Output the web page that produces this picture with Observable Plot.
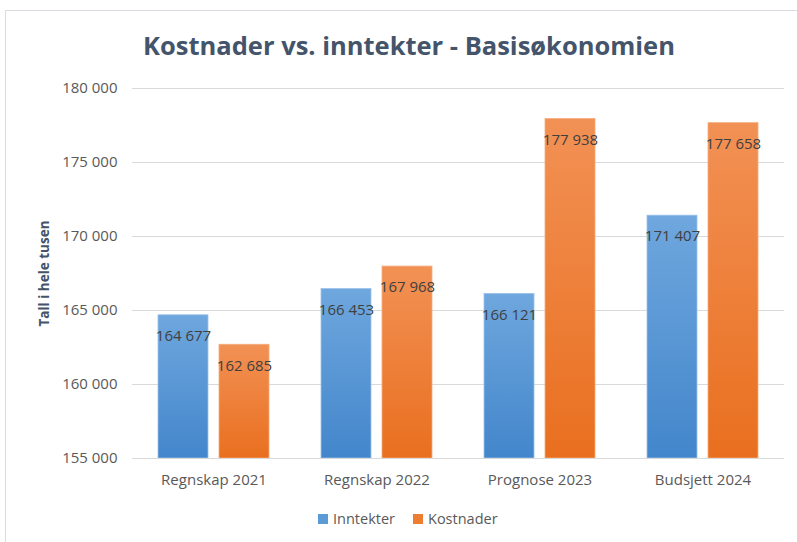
<!DOCTYPE html>
<html><head><meta charset="utf-8">
<script src="https://cdn.jsdelivr.net/npm/d3@7"></script>
<script src="https://cdn.jsdelivr.net/npm/@observablehq/plot@0.6"></script>
<style>
body{margin:0;background:#fff;width:797px;height:542px;overflow:hidden;position:relative;font-family:"Open Sans",sans-serif;}
#frame{position:absolute;left:5px;top:10px;width:800px;height:540px;border-left:1.5px solid #d9dce2;border-top:1.5px solid #d9dce2;}
#title{position:absolute;left:0;width:818px;top:28px;text-align:center;font-weight:bold;font-size:25.5px;color:#44546a;white-space:nowrap;}
#chart{position:absolute;left:0;top:0;}
#legend{position:absolute;left:318px;top:509px;display:flex;align-items:center;font-size:14.5px;color:#595959;}
#legend .sw{width:10px;height:10px;display:inline-block;margin-right:5px;}
#legend .it{display:flex;align-items:center;margin-right:18px;}
</style>
</head><body>
<div id="frame"></div>
<div id="title">Kostnader vs. inntekter - Basisøkonomien</div>
<div id="chart"></div>
<div id="legend"></div>
<script>
const categories = ["Regnskap 2021", "Regnskap 2022", "Prognose 2023", "Budsjett 2024"];
const seriesNames = ["Inntekter", "Kostnader"];
const inntekter = [164677, 166453, 166121, 171407];
const kostnader = [162685, 167968, 177938, 177658];
const yTicks = [155000, 160000, 165000, 170000, 175000, 180000];
const seriesColors = ["#5b9bd5", "#ed7d31"];

const data = [];
categories.forEach((c, i) => {
  data.push({cat: c, series: seriesNames[0], value: inntekter[i]});
  data.push({cat: c, series: seriesNames[1], value: kostnader[i]});
});

const fmt = v => d3.format(",")(v).replace(/,/g, " ");

const plot = Plot.plot({
  width: 797,
  height: 500,
  marginTop: 88,
  marginBottom: 42,
  marginLeft: 131,
  marginRight: 12,
  style: {fontFamily: "'Open Sans', sans-serif", fontSize: "14px", color: "#595959", background: "transparent"},
  fx: {domain: categories, padding: 0, label: null},
  x: {domain: seriesNames, paddingInner: 0.177, paddingOuter: 0.407, axis: null},
  y: {domain: [155000, 180000], label: null},
  marks: [
    Plot.gridY(yTicks, {stroke: "#d9d9d9", strokeOpacity: 1, strokeWidth: 1}),
    Plot.barY(data.filter(d => d.series === seriesNames[0]), {fx: "cat", x: "series", y1: 155000, y2: "value", fill: "url(#gBlue)", stroke: "#9cc3ea", strokeWidth: 0.8}),
    Plot.barY(data.filter(d => d.series === seriesNames[1]), {fx: "cat", x: "series", y1: 155000, y2: "value", fill: "url(#gOrange)", stroke: "#f4ad7c", strokeWidth: 0.8}),
    Plot.text(data, {fx: "cat", x: "series", y: "value", text: d => fmt(d.value), dy: 21, fill: "#404040", fontSize: 15, lineAnchor: "middle"}),
    Plot.ruleY([155000], {stroke: "#d9d9d9", strokeWidth: 1}),
    Plot.axisY(yTicks, {tickSize: 0, tickPadding: 15, tickFormat: fmt, fontSize: 15, label: "Tall i hele tusen", labelAnchor: "center", labelArrow: false, labelOffset: 93}),
    Plot.axisFx({anchor: "bottom", tickSize: 0, tickPadding: 16, fontSize: 15, label: null})
  ]
});

d3.select(plot).insert("defs", ":first-child").html(`
  <linearGradient id="gBlue" x1="0" y1="0" x2="0" y2="1">
    <stop offset="0" stop-color="#6fa7de"/>
    <stop offset="1" stop-color="#4386cb"/>
  </linearGradient>
  <linearGradient id="gOrange" x1="0" y1="0" x2="0" y2="1">
    <stop offset="0" stop-color="#f29155"/>
    <stop offset="1" stop-color="#e96f1f"/>
  </linearGradient>`);

d3.select(plot).selectAll("[aria-label='y-axis label'] text, [aria-label='y-axis label']")
  .attr("font-weight", "bold").attr("fill", "#44546a").attr("font-size", 13.5);

document.getElementById("chart").appendChild(plot);

const legend = document.getElementById("legend");
seriesNames.forEach((s, i) => {
  const it = document.createElement("div");
  it.className = "it";
  it.innerHTML = `<span class="sw" style="background:${seriesColors[i]}"></span><span>${s}</span>`;
  legend.appendChild(it);
});
</script>
</body></html>
